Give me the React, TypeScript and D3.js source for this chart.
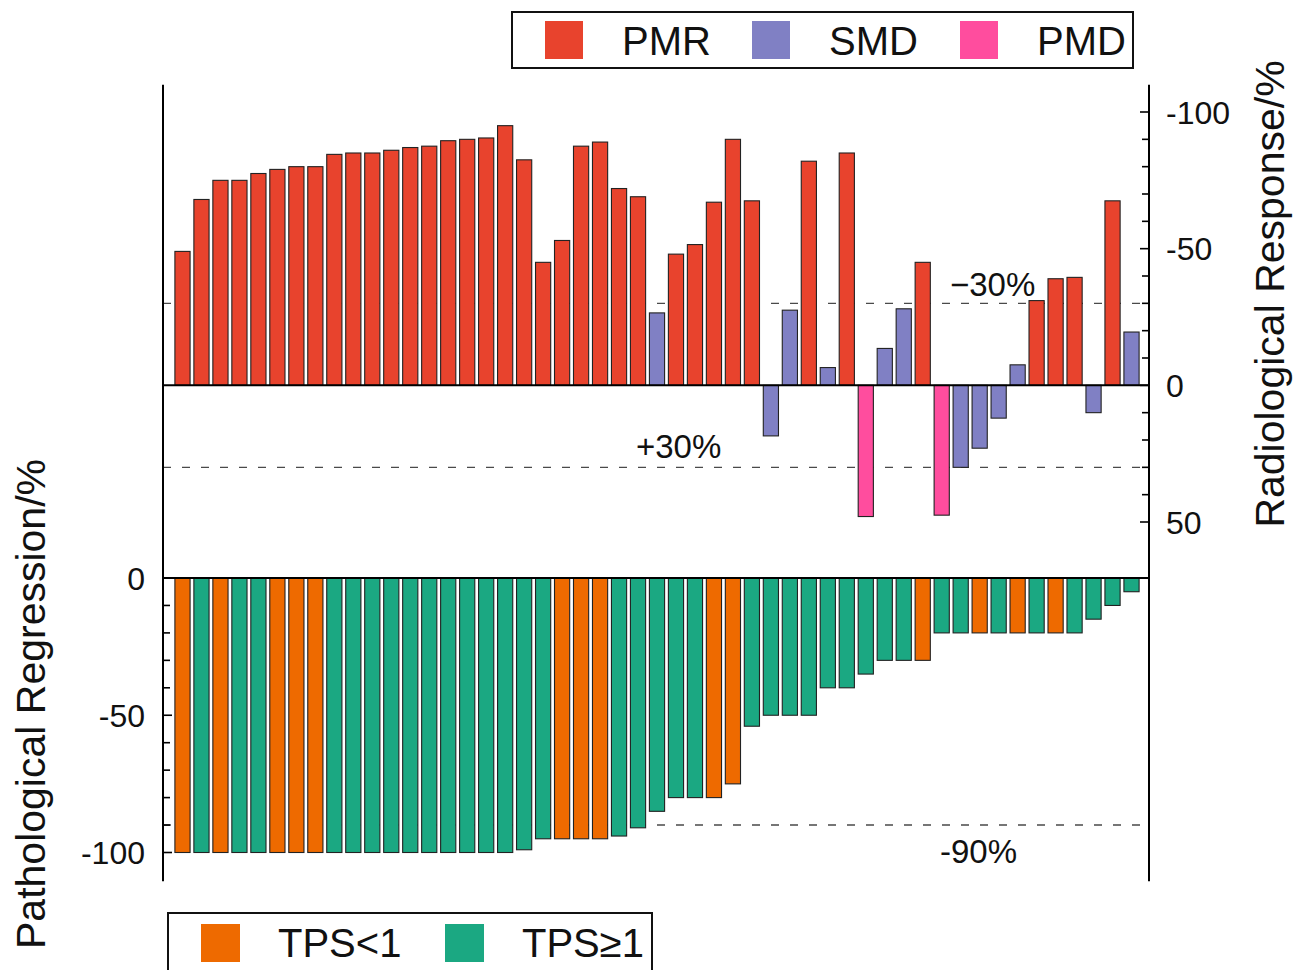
import React from "react";
import * as d3 from "d3";

const patientIds: string[] = Array.from({ length: 51 }, (_, i) => `P${i + 1}`);

// Radiological response (%), negative = shrinkage (plotted upward on inverted axis)
const radiological: number[] = [
  -49, -68, -75, -75, -77.5, -79, -80, -80, -84.5, -85,
  -85, -86, -87, -87.5, -89.5, -90, -90.5, -95, -82.5, -45,
  -53, -87.5, -89, -72, -69, -26.5, -48, -51.5, -67, -90,
  -67.5, 18.5, -27.5, -82, -6.5, -85, 48, -13.5, -28, -45,
  47.5, 30, 23, 12, -7.5, -31, -39, -39.5, 10, -67.5, -19.5,
];

const responseType: string[] = [
  "PMR", "PMR", "PMR", "PMR", "PMR", "PMR", "PMR", "PMR", "PMR", "PMR",
  "PMR", "PMR", "PMR", "PMR", "PMR", "PMR", "PMR", "PMR", "PMR", "PMR",
  "PMR", "PMR", "PMR", "PMR", "PMR", "SMD", "PMR", "PMR", "PMR", "PMR",
  "PMR", "SMD", "SMD", "PMR", "SMD", "PMR", "PMD", "SMD", "SMD", "PMR",
  "PMD", "SMD", "SMD", "SMD", "SMD", "PMR", "PMR", "PMR", "SMD", "PMR", "SMD",
];

// Pathological regression (%)
const pathological: number[] = [
  -100, -100, -100, -100, -100, -100, -100, -100, -100, -100,
  -100, -100, -100, -100, -100, -100, -100, -100, -99, -95,
  -95, -95, -95, -94, -91, -85, -80, -80, -80, -75,
  -54, -50, -50, -50, -40, -40, -35, -30, -30, -30,
  -20, -20, -20, -20, -20, -20, -20, -20, -15, -10, -5,
];

const tpsGroup: string[] = [
  "TPS<1", "TPS≥1", "TPS<1", "TPS≥1", "TPS≥1", "TPS<1", "TPS<1", "TPS<1", "TPS≥1", "TPS≥1",
  "TPS≥1", "TPS≥1", "TPS≥1", "TPS≥1", "TPS≥1", "TPS≥1", "TPS≥1", "TPS≥1", "TPS≥1", "TPS≥1",
  "TPS<1", "TPS<1", "TPS<1", "TPS≥1", "TPS≥1", "TPS≥1", "TPS≥1", "TPS≥1", "TPS<1", "TPS<1",
  "TPS≥1", "TPS≥1", "TPS≥1", "TPS≥1", "TPS≥1", "TPS≥1", "TPS≥1", "TPS≥1", "TPS≥1", "TPS<1",
  "TPS≥1", "TPS≥1", "TPS<1", "TPS≥1", "TPS<1", "TPS≥1", "TPS<1", "TPS≥1", "TPS≥1", "TPS≥1", "TPS≥1",
];

const responseCategories = ["PMR", "SMD", "PMD"];
const tpsCategories = ["TPS<1", "TPS≥1"];
const rightTicks = [-100, -50, 0, 50];
const leftTicks = [0, -50, -100];

const responseColor = d3.scaleOrdinal<string, string>()
  .domain(responseCategories)
  .range(["#E8432D", "#8080C4", "#FF4D9E"]);
const tpsColor = d3.scaleOrdinal<string, string>()
  .domain(tpsCategories)
  .range(["#EE6A00", "#1BA882"]);

const FONT = "'Liberation Sans', Arial, Helvetica, sans-serif";

export default function App() {
  const W = 1301, H = 970;
  const xL = 163, xR = 1149;
  const x = d3.scaleBand<string>().domain(patientIds).range([173, 1141])
    .paddingInner(0.2).paddingOuter(0.1);
  const yT = d3.scaleLinear().domain([-100, 50]).range([112, 522]);
  const yB = d3.scaleLinear().domain([0, -100]).range([578, 852.5]);
  const axisTop = yT(-110);
  const axisBottom = yB(-110.5);

  const minorRight = d3.range(-100, 51, 10);
  const minorLeft = d3.range(0, -101, -10);
  const dash = { stroke: "#4a4a4a", strokeWidth: 1.4, strokeDasharray: "8,11" };

  return (
    <svg width={W} height={H} style={{ position: "absolute", left: 0, top: 0, background: "#fff" }}
      fontFamily={FONT}>
      <rect x={0} y={0} width={W} height={H} fill="#fff" />
      {/* dashed reference lines */}
      {[-30, 30].map((v) => (
        <line key={v} x1={xL} x2={xR} y1={yT(v)} y2={yT(v)} {...dash} />
      ))}
      <line x1={xL} x2={xR} y1={yB(-90)} y2={yB(-90)} {...dash} />

      {/* top bars */}
      {patientIds.map((id, i) => {
        const v = radiological[i];
        const y0 = yT(0), y1 = yT(v);
        return (
          <rect key={"t" + id} x={x(id)} width={x.bandwidth()} y={Math.min(y0, y1)} height={Math.abs(y1 - y0)}
            fill={responseColor(responseType[i])} stroke="#222" strokeWidth={1.1} />
        );
      })}
      {/* bottom bars */}
      {patientIds.map((id, i) => {
        const v = pathological[i];
        const y0 = yB(0), y1 = yB(v);
        return (
          <rect key={"b" + id} x={x(id)} width={x.bandwidth()} y={Math.min(y0, y1)} height={Math.abs(y1 - y0)}
            fill={tpsColor(tpsGroup[i])} stroke="#222" strokeWidth={1.1} />
        );
      })}

      {/* zero lines */}
      <line x1={xL} x2={xR} y1={yT(0)} y2={yT(0)} stroke="#000" strokeWidth={2} />
      <line x1={xL} x2={xR} y1={yB(0)} y2={yB(0)} stroke="#000" strokeWidth={2} />

      {/* axes lines */}
      <line x1={xL} x2={xL} y1={axisTop} y2={axisBottom} stroke="#000" strokeWidth={2} />
      <line x1={xR} x2={xR} y1={axisTop} y2={axisBottom} stroke="#000" strokeWidth={2} />

      {/* right ticks */}
      {minorRight.map((v) => (
        <line key={"rt" + v} x1={xR} x2={xR - (v % 50 === 0 ? 9 : 7)} y1={yT(v)} y2={yT(v)} stroke="#000" strokeWidth={1.6} />
      ))}
      {rightTicks.map((v) => (
        <text key={"rl" + v} x={1166} y={yT(v)} dy="0.36em" fontSize={32} fill="#111">{String(v)}</text>
      ))}
      {/* left ticks */}
      {minorLeft.map((v) => (
        <line key={"lt" + v} x1={xL} x2={xL + (v % 50 === 0 ? 9 : 7)} y1={yB(v)} y2={yB(v)} stroke="#000" strokeWidth={1.6} />
      ))}
      {leftTicks.map((v) => (
        <text key={"ll" + v} x={145} y={yB(v)} dy="0.36em" fontSize={32} textAnchor="end" fill="#111">{String(v)}</text>
      ))}

      {/* axis titles */}
      <text transform={`translate(1284, 294) rotate(-90)`} textAnchor="middle" fontSize={41} fill="#111">
        Radiological Response/%
      </text>
      <text transform={`translate(45, 704) rotate(-90)`} textAnchor="middle" fontSize={41} fill="#111">
        Pathological Regression/%
      </text>

      {/* annotations */}
      <text x={950} y={296} fontSize={33} fill="#111">−30%</text>
      <text x={636} y={458} fontSize={33} fill="#111">+30%</text>
      <text x={940} y={863} fontSize={33} fill="#111">-90%</text>

      {/* top legend */}
      <rect x={512} y={12} width={621} height={56} fill="#fff" stroke="#111" strokeWidth={2} />
      {responseCategories.map((c, i) => {
        const sx = [545, 752, 960][i];
        return (
          <g key={"lg" + c}>
            <rect x={sx} y={21} width={38} height={38} fill={responseColor(c)} />
            <text x={sx + 77} y={55} fontSize={40} fill="#111">{c}</text>
          </g>
        );
      })}

      {/* bottom legend */}
      <rect x={168} y={913} width={484} height={80} fill="#fff" stroke="#111" strokeWidth={2} />
      {tpsCategories.map((c, i) => {
        const sx = [201, 445][i];
        return (
          <g key={"lb" + c}>
            <rect x={sx} y={924} width={39} height={38} fill={tpsColor(c)} />
            <text x={sx + 77} y={957} fontSize={40} fill="#111">{c}</text>
          </g>
        );
      })}
    </svg>
  );
}
